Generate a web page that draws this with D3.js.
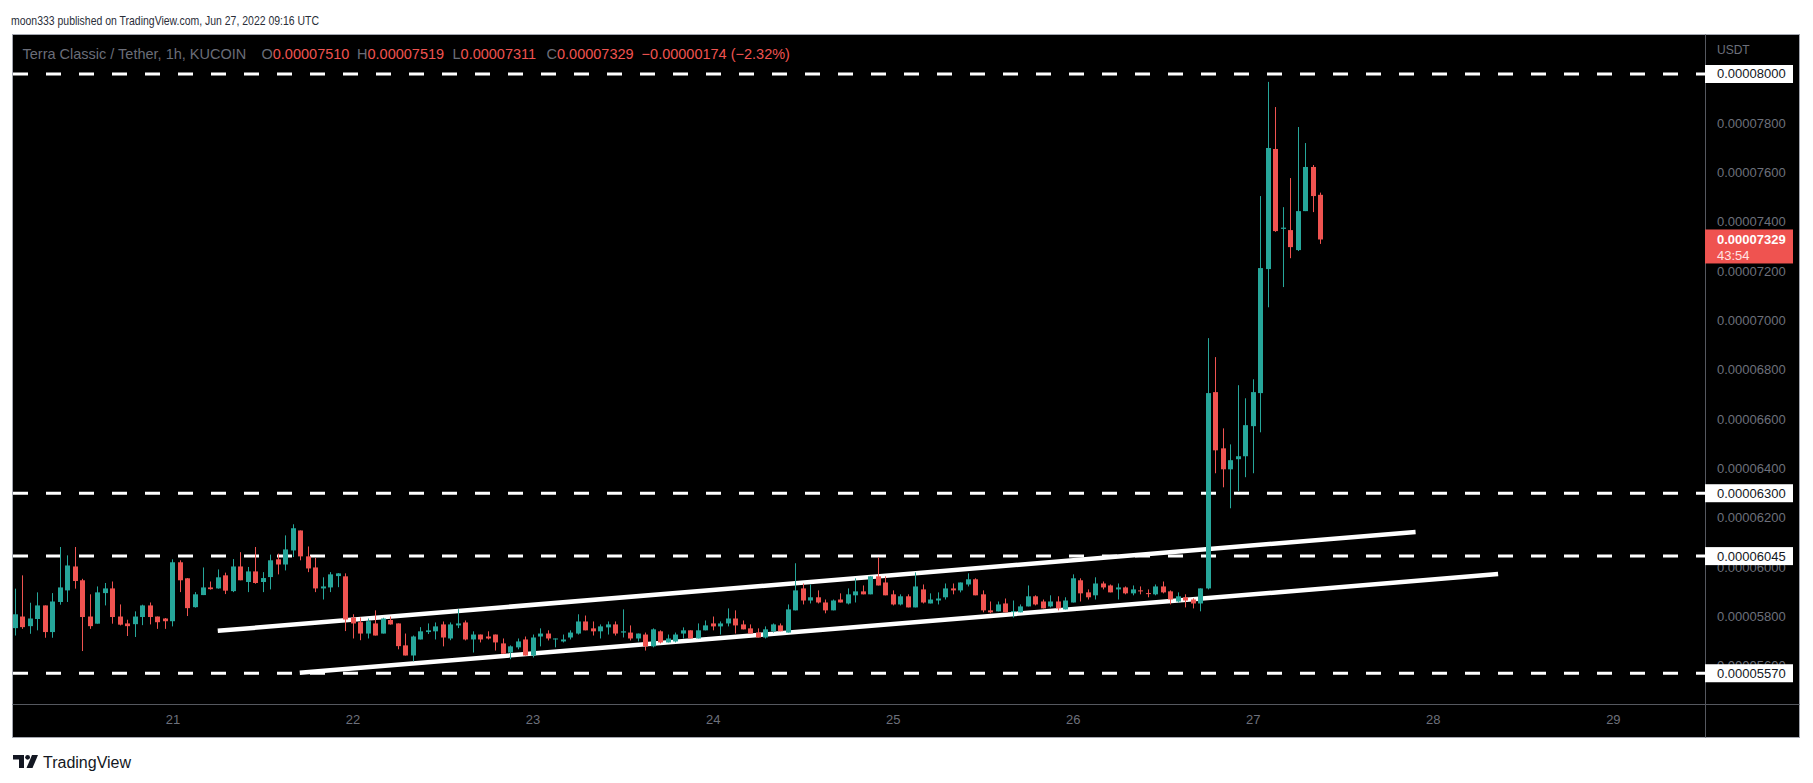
<!DOCTYPE html>
<html><head><meta charset="utf-8">
<script src="https://cdn.jsdelivr.net/npm/d3@7"></script>
<style>
html,body{margin:0;padding:0;background:#ffffff;}
svg{display:block;font-family:"Liberation Sans",Arial,sans-serif;}
</style></head><body>
<svg id="chart" width="1813" height="783"></svg>
<script>
// ---------------- DATA (prices in units of 0.00000001 USDT) ----------------
const firstCandleTime = "2022-06-20T03:00:00Z";   // 1h candles, consecutive
const opens = [5753,5800,5761,5790,5845,5737,5859,5906,6003,5947,5800,5771,5895,5914,5800,5772,5769,5798,5845,5800,5792,
5781,6020,5955,5838,5887,5918,5914,5967,5903,6003,5940,5983,5940,5960,6032,6011,6068,6149,6044,5999,5914,5918,5964,5963,
5796,5777,5731,5772,5731,5786,5772,5683,5642,5707,5737,5740,5768,5711,5764,5776,5707,5727,5719,5727,5691,5654,5675,5707,
5642,5719,5731,5708,5699,5715,5731,5780,5752,5740,5756,5768,5735,5735,5711,5727,5679,5740,5695,5699,5731,5744,5711,5744,
5772,5760,5772,5792,5768,5752,5735,5715,5740,5764,5735,5825,5914,5865,5878,5857,5825,5869,5853,5886,5902,5890,5963,5938,
5890,5849,5882,5837,5910,5853,5865,5878,5914,5906,5930,5951,5890,5825,5821,5853,5819,5817,5841,5882,5861,5841,5861,5829,
5857,5947,5898,5886,5934,5926,5910,5918,5894,5906,5895,5890,5922,5902,5861,5878,5869,5853,5914,6710,6482,6397,6438,6450,
6572,6706,7209,7696,7372,7367,7286,7444,7623,7510];
const highs = [5913,5967,5856,5898,5845,5895,6082,6048,6082,5953,5890,5922,5936,5942,5849,5787,5821,5848,5857,5800,5794,
6032,6028,5956,5899,5999,5942,5991,5978,6033,6061,6001,6082,5980,6051,6055,6129,6174,6149,6084,6038,5959,5980,5976,5975,
5809,5796,5792,5825,5795,5800,5772,5731,5723,5757,5772,5776,5780,5776,5830,5784,5740,5727,5740,5727,5711,5683,5711,5719,
5727,5752,5744,5711,5727,5744,5809,5804,5780,5768,5780,5780,5829,5764,5731,5735,5752,5744,5727,5735,5756,5744,5772,5784,
5800,5780,5833,5825,5784,5768,5752,5760,5772,5772,5849,6016,5934,5930,5906,5869,5869,5894,5914,5955,5926,5963,6040,5963,
5906,5890,5890,5979,5930,5894,5898,5934,5934,5938,5975,5955,5906,5861,5861,5873,5865,5849,5926,5886,5869,5886,5882,5878,
5971,5955,5910,5959,5942,5930,5934,5922,5926,5922,5910,5930,5942,5906,5898,5890,5874,5914,6929,6852,6563,6498,6738,6685,
6762,7505,7968,7866,7460,7578,7785,7720,7631,7519];
const lows = [5723,5750,5730,5744,5714,5714,5848,5859,5913,5660,5750,5771,5845,5771,5764,5721,5717,5765,5768,5750,5750,
5760,5899,5802,5836,5887,5909,5913,5891,5899,5947,5899,5933,5899,5910,5971,5987,6041,6028,5980,5899,5869,5899,5919,5741,
5711,5704,5711,5723,5731,5767,5667,5642,5618,5707,5729,5707,5679,5704,5753,5703,5654,5695,5707,5662,5649,5627,5667,5642,
5634,5679,5703,5675,5695,5707,5727,5744,5723,5711,5727,5723,5715,5703,5699,5662,5675,5691,5695,5695,5711,5711,5711,5744,
5744,5727,5760,5731,5748,5731,5715,5711,5735,5740,5735,5825,5849,5853,5853,5813,5825,5857,5849,5857,5890,5890,5926,5886,
5845,5845,5837,5837,5853,5853,5849,5869,5890,5898,5922,5886,5817,5813,5821,5817,5796,5817,5841,5845,5833,5837,5825,5829,
5857,5861,5869,5869,5910,5898,5869,5890,5886,5890,5878,5886,5894,5849,5857,5837,5833,5821,5910,6381,6324,6239,6308,6365,
6381,6547,7054,7360,7136,7253,7282,7444,7440,7311];
const closes = [5809,5757,5792,5845,5737,5861,5918,6007,5944,5798,5761,5898,5914,5798,5767,5761,5800,5845,5798,5777,5781,
6020,5947,5834,5890,5918,5911,5959,5905,6003,5947,5983,5936,5956,6028,6011,6072,6158,6044,5995,5914,5922,5971,5975,5788,
5772,5731,5781,5723,5792,5768,5680,5642,5719,5740,5744,5760,5715,5768,5772,5707,5727,5707,5711,5695,5649,5679,5699,5642,
5715,5731,5711,5711,5707,5735,5780,5744,5740,5760,5768,5731,5740,5711,5731,5679,5748,5695,5711,5727,5744,5711,5744,5764,
5760,5772,5792,5764,5748,5731,5715,5748,5768,5740,5829,5906,5865,5878,5857,5825,5865,5857,5890,5902,5890,5963,5926,5886,
5849,5882,5837,5922,5857,5869,5873,5914,5906,5938,5951,5886,5825,5817,5849,5817,5822,5841,5882,5849,5833,5861,5833,5865,
5955,5894,5878,5934,5918,5898,5918,5894,5910,5902,5892,5922,5898,5869,5882,5865,5853,5914,6706,6474,6397,6434,6450,6576,
6710,7213,7700,7363,7377,7298,7444,7623,7505,7329];

const levelPrices = [8000, 6300, 6045, 5570];               // horizontal dashed levels
const priceTicks = [7800,7600,7400,7200,7000,6800,6600,6400,6200,6000,5800,5600];
const dayTicks = ["2022-06-21","2022-06-22","2022-06-23","2022-06-24","2022-06-25","2022-06-26","2022-06-27","2022-06-28","2022-06-29"];
const channelUpper = [["2022-06-21T06:02:00Z", 5742], ["2022-06-27T21:42:00Z", 6143]];
const channelLower = [["2022-06-21T16:58:00Z", 5572], ["2022-06-28T08:42:00Z", 5972]];
const lastPrice = 7329;
const countdown = "43:54";
const headerText = "moon333 published on TradingView.com, Jun 27, 2022 09:16 UTC";
const symbolText = "Terra Classic / Tether, 1h, KUCOIN";
const ohlcLabels = ["O","H","L","C"];
const ohlcValues = ["0.00007510","0.00007519","0.00007311","0.00007329"];
const changeText = "\u22120.00000174 (\u22122.32%)";
const currency = "USDT";

// ---------------- LAYOUT ----------------
const frame = {x0: 12.5, y0: 34.5, x1: 1799.5, y1: 737.5};
const plot = {x0: 13, y0: 35, x1: 1705, y1: 704};
const UP = "#26a69a", DOWN = "#ef5350";
const axisGrey = "#6d707b";

const svg = d3.select("#chart");
const t0 = new Date(firstCandleTime).getTime();
const candles = opens.map((o, i) => ({
  t: new Date(t0 + i * 3600e3), o, h: highs[i], l: lows[i], c: closes[i]
}));

const x = d3.scaleUtc()
  .domain([new Date("2022-06-20T02:44:24Z"), new Date("2022-06-29T12:16:48Z")])
  .range([plot.x0, plot.x1]);
const y = d3.scaleLinear().domain([5445.3, 8162.2]).range([704, 34]);
const fmt = v => (v * 1e-8).toFixed(8);

// header
svg.append("text").attr("x", 11).attr("y", 25).attr("font-size", 13.5)
  .attr("fill", "#2a2e39").attr("textLength", 308).attr("lengthAdjust", "spacingAndGlyphs")
  .text(headerText);

// chart frame background
svg.append("rect").attr("x", frame.x0).attr("y", frame.y0)
  .attr("width", frame.x1 - frame.x0).attr("height", frame.y1 - frame.y0)
  .attr("fill", "#000").attr("stroke", "#a3a6af").attr("stroke-width", 1);
svg.append("line").attr("x1", 1705.5).attr("x2", 1705.5).attr("y1", frame.y0).attr("y2", frame.y1)
  .attr("stroke", "#55585f");
svg.append("line").attr("x1", frame.x0).attr("x2", frame.x1).attr("y1", 704.5).attr("y2", 704.5)
  .attr("stroke", "#55585f");

svg.append("clipPath").attr("id", "plotclip").append("rect")
  .attr("x", plot.x0).attr("y", plot.y0).attr("width", plot.x1 - plot.x0).attr("height", plot.y1 - plot.y0);
const g = svg.append("g").attr("clip-path", "url(#plotclip)");

// dashed level lines
g.selectAll("line.level").data(levelPrices).join("line").attr("class", "level")
  .attr("x1", plot.x0).attr("x2", plot.x1)
  .attr("y1", d => y(d)).attr("y2", d => y(d))
  .attr("stroke", "#fff").attr("stroke-width", 3).attr("stroke-dasharray", "15 18");

// channel trend lines
[channelUpper, channelLower].forEach(seg => {
  g.append("line")
    .attr("x1", x(new Date(seg[0][0]))).attr("y1", y(seg[0][1]))
    .attr("x2", x(new Date(seg[1][0]))).attr("y2", y(seg[1][1]))
    .attr("stroke", "#fff").attr("stroke-width", 4.5);
});

// candles
const step = x(new Date(t0 + 3600e3)) - x(new Date(t0));
const bw = Math.max(1, Math.round(step * 0.68));
const cg = g.append("g");
cg.selectAll("line.wick").data(candles).join("line").attr("class", "wick")
  .attr("x1", d => Math.round(x(d.t)) + 0.5).attr("x2", d => Math.round(x(d.t)) + 0.5)
  .attr("y1", d => y(d.h)).attr("y2", d => y(d.l))
  .attr("stroke", d => d.c >= d.o ? UP : DOWN).attr("stroke-width", 1);
cg.selectAll("rect.body").data(candles).join("rect").attr("class", "body")
  .attr("x", d => Math.round(x(d.t)) + 0.5 - bw / 2)
  .attr("width", bw)
  .attr("y", d => y(Math.max(d.o, d.c)))
  .attr("height", d => Math.max(1, Math.abs(y(d.o) - y(d.c))))
  .attr("fill", d => d.c >= d.o ? UP : DOWN);

// legend
svg.append("text").attr("x", 22.5).attr("y", 58.5).attr("font-size", 14.5).attr("fill", "#6a6d78")
  .text(symbolText);
const legendX = [261.5, 357, 452.5, 546.5];
const leg = svg.append("text").attr("y", 58.5).attr("font-size", 14.5);
ohlcLabels.forEach((lab, i) => {
  leg.append("tspan").attr("x", legendX[i]).attr("fill", "#6a6d78").text(lab);
  leg.append("tspan").attr("fill", DOWN).text(ohlcValues[i]);
});
leg.append("tspan").attr("dx", 8).attr("fill", DOWN).text(changeText);

// price axis (tick labels partly hidden behind level labels, as in the original)
const pa = svg.append("g").attr("font-size", 13);
pa.append("text").attr("x", 1717).attr("y", 50).attr("dominant-baseline", "central")
  .attr("fill", axisGrey).attr("font-size", 12).text(currency);
pa.selectAll("text.tick").data(priceTicks).join("text").attr("class", "tick")
  .attr("x", 1717).attr("y", d => y(d)).attr("dominant-baseline", "central")
  .attr("fill", axisGrey).text(d => fmt(d));
const lv = pa.selectAll("g.lvl").data(levelPrices).join("g").attr("class", "lvl");
lv.append("rect").attr("x", 1705).attr("y", d => y(d) - 9).attr("width", 88).attr("height", 18).attr("fill", "#fff");
lv.append("text").attr("x", 1717).attr("y", d => y(d)).attr("dominant-baseline", "central")
  .attr("fill", "#131722").text(d => fmt(d));
const yl = y(lastPrice);
pa.append("rect").attr("x", 1705).attr("y", yl - 10).attr("width", 88).attr("height", 34).attr("fill", DOWN);
pa.append("text").attr("x", 1717).attr("y", yl).attr("dominant-baseline", "central")
  .attr("fill", "#fff").attr("font-weight", "bold").text(fmt(lastPrice));
pa.append("text").attr("x", 1717).attr("y", yl + 16).attr("dominant-baseline", "central")
  .attr("fill", "#ffe3e3").text(countdown);

// time axis
const ta = svg.append("g").attr("transform", "translate(0,704)")
  .call(d3.axisBottom(x).tickValues(dayTicks.map(d => new Date(d + "T00:00:00Z")))
    .tickSize(0).tickPadding(11).tickFormat(d3.utcFormat("%-d")));
ta.select(".domain").remove();
ta.selectAll("text").attr("fill", axisGrey).attr("font-size", 13)
  .attr("font-family", "'Liberation Sans',Arial,sans-serif");

// TradingView footer logo
const logo = svg.append("g").attr("fill", "#131722");
logo.append("path").attr("d", "M13,755 H24 V768 H19 V759.5 H13 Z");
logo.append("circle").attr("cx", 27.6).attr("cy", 757.3).attr("r", 2.4);
logo.append("path").attr("d", "M32,755 H38 L32.5,768 H26.5 Z");
svg.append("text").attr("x", 43).attr("y", 767.5).attr("font-size", 16).attr("fill", "#131722")
  .text("TradingView");
</script>
</body></html>
